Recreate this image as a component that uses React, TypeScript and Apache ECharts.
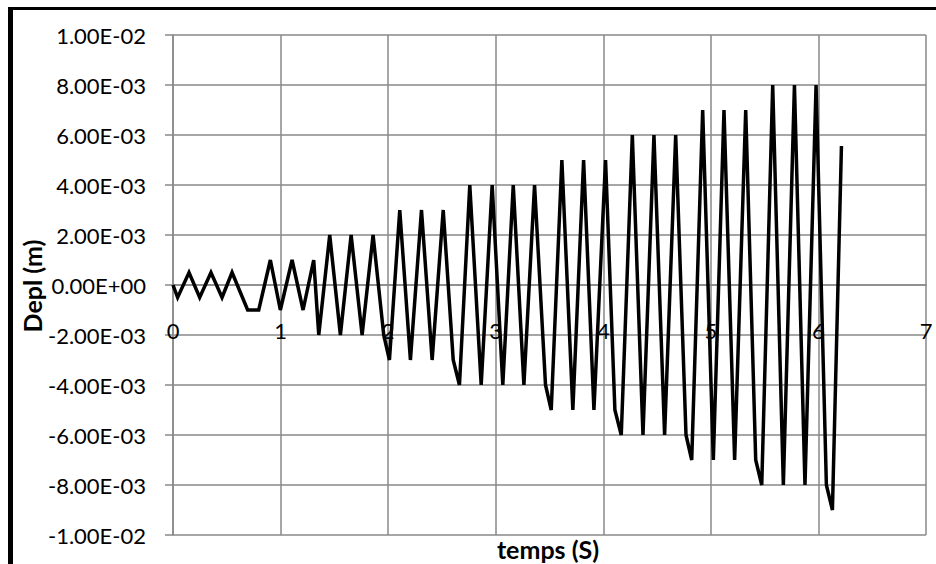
import React, { useEffect, useRef } from "react";
import * as echarts from "echarts";

const times = [
  0, 0.043, 0.149, 0.248, 0.353, 0.456, 0.549, 0.694, 0.797, 0.905, 0.998, 1.107, 1.209, 1.308,
  1.355, 1.457, 1.556, 1.656, 1.758, 1.86, 1.959, 2.012, 2.108, 2.207, 2.31, 2.409, 2.512, 2.605,
  2.663, 2.759, 2.865, 2.967, 3.066, 3.163, 3.262, 3.361, 3.463, 3.516, 3.615, 3.717, 3.817, 3.913,
  4.021, 4.108, 4.167, 4.27, 4.369, 4.471, 4.57, 4.673, 4.769, 4.822, 4.924, 5.023, 5.122, 5.221,
  5.324, 5.417, 5.473, 5.575, 5.674, 5.777, 5.875, 5.978, 6.074, 6.13, 6.214,
];

const depl = [
  0, -0.0005, 0.0005, -0.0005, 0.0005, -0.0005, 0.0005, -0.001, -0.001, 0.001, -0.001, 0.001, -0.001, 0.001,
  -0.002, 0.002, -0.002, 0.002, -0.002, 0.002, -0.002, -0.003, 0.003, -0.003, 0.003, -0.003, 0.003, -0.003,
  -0.004, 0.004, -0.004, 0.004, -0.004, 0.004, -0.004, 0.004, -0.004, -0.005, 0.005, -0.005, 0.005, -0.005,
  0.005, -0.005, -0.006, 0.006, -0.006, 0.006, -0.006, 0.006, -0.006, -0.007, 0.007, -0.007, 0.007, -0.007,
  0.007, -0.007, -0.008, 0.008, -0.008, 0.008, -0.008, 0.008, -0.008, -0.009, 0.00556,
];

const xTitle = "temps (S)";
const yTitle = "Depl (m)";

function sci(v: number): string {
  if (Math.abs(v) < 1e-12) return "0.00E+00";
  const e = Math.floor(Math.log10(Math.abs(v)) + 1e-9);
  const m = v / Math.pow(10, e);
  const ae = Math.abs(e);
  return m.toFixed(2) + "E" + (e < 0 ? "-" : "+") + (ae < 10 ? "0" : "") + ae;
}

export default function App() {
  const ref = useRef<HTMLDivElement>(null);
  useEffect(() => {
    if (!ref.current) return;
    const chart = echarts.init(ref.current, undefined, { renderer: "svg" });
    const grey = "#898989";
    const font = "Lato";
    chart.setOption({
      animation: false,
      backgroundColor: "#ffffff",
      grid: { left: 173, right: 10, top: 35, bottom: 29, containLabel: false, outerBoundsMode: "none" },
      xAxis: {
        type: "value",
        min: 0,
        max: 7,
        interval: 1,
        position: "bottom",
        offset: -250,
        axisLine: { show: true, onZero: false, lineStyle: { color: grey, width: 1.5 } },
        axisTick: { show: false },
        axisLabel: { color: "#000", fontFamily: font, fontSize: 22, margin: 34 },
        splitLine: { show: true, lineStyle: { color: grey, width: 1.5 } },
      },
      yAxis: {
        type: "value",
        min: -0.01,
        max: 0.01,
        interval: 0.002,
        axisLine: { show: true, onZero: false, lineStyle: { color: grey, width: 1.5 } },
        axisTick: { show: true, inside: false, length: 8, lineStyle: { color: grey, width: 1.5 } },
        axisLabel: { color: "#000", fontFamily: font, fontSize: 22, margin: 27, formatter: (v: number) => sci(v) },
        splitLine: { show: true, lineStyle: { color: grey, width: 1.5 } },
      },
      series: [
        {
          type: "line",
          data: times.map((t, i) => [t, depl[i]]),
          showSymbol: false,
          symbol: "none",
          lineStyle: { color: "#000", width: 3.5, join: "miter" },
          itemStyle: { color: "#000" },
        },
      ],
      graphic: [
        { type: "rect", shape: { x: 8, y: 7, width: 928, height: 3 }, style: { fill: "#000" } },
        { type: "rect", shape: { x: 8, y: 7, width: 5, height: 557 }, style: { fill: "#000" } },
        {
          type: "text",
          x: 548,
          y: 549,
          style: { text: xTitle, fontFamily: font, fontWeight: "bold", fontSize: 25, fill: "#000", align: "center", verticalAlign: "middle" },
        },
        {
          type: "text",
          x: 32,
          y: 286,
          rotation: Math.PI / 2,
          style: { text: yTitle, fontFamily: font, fontWeight: "bold", fontSize: 25, fill: "#000", align: "center", verticalAlign: "middle" },
        },
      ],
    });
    return () => chart.dispose();
  }, []);
  return (
    <div
      ref={ref}
      style={{ position: "absolute", left: 0, top: 0, width: 936, height: 564 }}
    />
  );
}
